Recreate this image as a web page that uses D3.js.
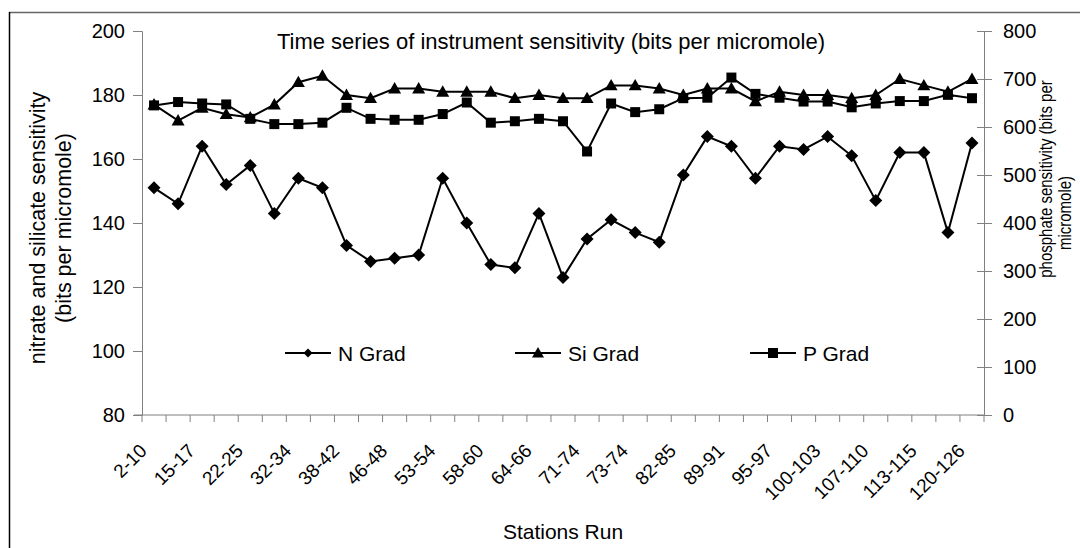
<!DOCTYPE html>
<html>
<head>
<meta charset="utf-8">
<script src="https://cdn.jsdelivr.net/npm/d3@7.9.0/dist/d3.min.js"></script>
<style>
  html, body { margin: 0; padding: 0; background: #fff; }
  svg { display: block; font-family: Arial, "Liberation Sans", sans-serif; }
</style>
</head>
<body>
<div id="chart"></div>
<script>
// Station labels shown on the x axis (every other category is labelled)
const stationLabels = ['2-10', '15-17', '22-25', '32-34', '38-42', '46-48', '53-54', '58-60', '64-66',
  '71-74', '73-74', '82-85', '89-91', '95-97', '100-103', '107-110', '113-115', '120-126'];

// Nitrate sensitivity (left axis)
const nGrad = [151, 146, 164, 152, 158, 143, 154, 151, 133, 128, 129, 130, 154, 140, 127, 126, 143, 123,
  135, 141, 137, 134, 155, 167, 164, 154, 164, 163, 167, 161, 147, 162, 162, 137, 165];

// Silicate sensitivity (left axis)
const siGrad = [177, 172, 176, 174, 173, 177, 184, 186, 180, 179, 182, 182, 181, 181, 181, 179, 180, 179,
  179, 183, 183, 182, 180, 182, 182, 178, 181, 180, 180, 179, 180, 185, 183, 181, 185];

// Phosphate sensitivity (right axis)
const pGrad = [645, 652, 649, 647, 617, 606, 606, 609, 640, 617, 615, 615, 627, 651, 609, 612, 617, 612,
  549, 649, 631, 637, 660, 661, 703, 669, 661, 653, 653, 641, 649, 654, 654, 667, 660];

const leftTicks = [80, 100, 120, 140, 160, 180, 200];
const rightTicks = [0, 100, 200, 300, 400, 500, 600, 700, 800];

const width = 1080;
const height = 548;
const plot = { left: 142, right: 984, top: 31, bottom: 415 };
const font = 'Arial, "Liberation Sans", sans-serif';

const svg = d3.select('#chart').append('svg')
  .attr('width', width)
  .attr('height', height);

// frame lines of the chart area
svg.append('line').attr('x1', 9).attr('x2', width).attr('y1', 12.5).attr('y2', 12.5)
  .attr('stroke', '#666').attr('stroke-width', 1.5);
svg.append('line').attr('x1', 9.5).attr('x2', 9.5).attr('y1', 12).attr('y2', height)
  .attr('stroke', '#000').attr('stroke-width', 1.5);

// Scales
const idx = d3.range(nGrad.length);
const x = d3.scaleBand().domain(idx).range([plot.left, plot.right]);
const cx = (i) => x(i) + x.bandwidth() / 2;
const yLeft = d3.scaleLinear().domain([80, 200]).range([plot.bottom, plot.top]);
const yRight = d3.scaleLinear().domain([0, 800]).range([plot.bottom, plot.top]);

const axisColor = '#808080';

// Left axis
const gLeft = svg.append('g')
  .attr('transform', `translate(${plot.left},0)`)
  .call(d3.axisLeft(yLeft).tickValues(leftTicks).tickSize(9).tickPadding(8));
gLeft.select('.domain').attr('stroke', axisColor);
gLeft.selectAll('.tick line').attr('stroke', axisColor);
gLeft.selectAll('.tick text').attr('font-size', 20).attr('fill', '#000').attr('font-family', font);

// Right axis (ticks cross the axis line)
const gRight = svg.append('g')
  .attr('transform', `translate(${plot.right},0)`)
  .call(d3.axisRight(yRight).tickValues(rightTicks).tickSize(8).tickPadding(11));
gRight.select('.domain').attr('stroke', axisColor);
gRight.selectAll('.tick line').attr('stroke', axisColor).attr('x1', -7);
gRight.selectAll('.tick text').attr('font-size', 20).attr('fill', '#000').attr('font-family', font);

// X axis
const gX = svg.append('g')
  .attr('transform', `translate(0,${plot.bottom})`);
gX.append('line')
  .attr('x1', plot.left - 8).attr('x2', plot.right)
  .attr('stroke', axisColor);
gX.selectAll('.xtick')
  .data(d3.range(nGrad.length + 1))
  .join('line')
  .attr('class', 'xtick')
  .attr('x1', (i) => plot.left + i * x.step())
  .attr('x2', (i) => plot.left + i * x.step())
  .attr('y1', 0).attr('y2', 7)
  .attr('stroke', axisColor);
gX.selectAll('.xlabel')
  .data(stationLabels)
  .join('text')
  .attr('class', 'xlabel')
  .attr('transform', (d, k) => `translate(${cx(k * 2) - 6},${37}) rotate(-45)`)
  .attr('text-anchor', 'end')
  .attr('font-size', 19)
  .text((d) => d);

// Axis titles
svg.append('text')
  .attr('x', (plot.left + plot.right) / 2).attr('y', 539)
  .attr('text-anchor', 'middle').attr('font-size', 21)
  .text('Stations Run');

const leftTitle = svg.append('g').attr('font-size', 21.5).attr('text-anchor', 'middle');
leftTitle.append('text')
  .attr('transform', 'translate(45,228) rotate(-90)')
  .text('nitrate and silicate sensitivity');
leftTitle.append('text')
  .attr('transform', 'translate(71,228) rotate(-90)')
  .text('(bits per micromole)');

// right title is narrow but thick in the source, so widen the glyphs sideways
const rightTitle = svg.append('g').attr('font-size', 15).attr('text-anchor', 'middle');
rightTitle.append('text')
  .attr('transform', 'translate(1052,179) scale(1.25,1) rotate(-90)')
  .text('phosphate sensitivity (bits per');
rightTitle.append('text')
  .attr('transform', 'translate(1071,213) scale(1.25,1) rotate(-90)')
  .text('micromole)');

// Chart title
svg.append('text')
  .attr('x', 551).attr('y', 49)
  .attr('text-anchor', 'middle').attr('font-size', 22)
  .text('Time series of instrument sensitivity (bits per micromole)');

// Marker shapes
const shapes = {
  diamond: (r) => `M0,${-r}L${r},0L0,${r}L${-r},0Z`,
  triangle: (r) => `M0,${-r}L${r},${r * 0.75}L${-r},${r * 0.75}Z`,
  square: (r) => `M${-r},${-r}H${r}V${r}H${-r}Z`,
};

const series = [
  { name: 'N Grad', values: nGrad, y: yLeft, shape: 'diamond', r: 6.5, lr: 4.5 },
  { name: 'Si Grad', values: siGrad, y: yLeft, shape: 'triangle', r: 6.5, lr: 6 },
  { name: 'P Grad', values: pGrad, y: yRight, shape: 'square', r: 5, lr: 5 },
];

series.forEach((s) => {
  const line = d3.line().x((d, i) => cx(i)).y((d) => s.y(d));
  svg.append('path')
    .datum(s.values)
    .attr('d', line)
    .attr('fill', 'none')
    .attr('stroke', '#000')
    .attr('stroke-width', 2);
  svg.append('g')
    .selectAll('path')
    .data(s.values)
    .join('path')
    .attr('transform', (d, i) => `translate(${cx(i)},${s.y(d)})`)
    .attr('d', shapes[s.shape](s.r))
    .attr('fill', '#000');
});

// Legend
const legendX = [285, 515, 750];
const legendY = 353;
const legend = svg.append('g');
series.forEach((s, k) => {
  const g = legend.append('g').attr('transform', `translate(${legendX[k]},${legendY})`);
  g.append('line').attr('x1', 0).attr('x2', 46).attr('stroke', '#000').attr('stroke-width', 2);
  g.append('path').attr('transform', 'translate(23,0)').attr('d', shapes[s.shape](s.lr)).attr('fill', '#000');
  g.append('text').attr('x', 53).attr('y', 7.5).attr('font-size', 21).text(s.name);
});
</script>
</body>
</html>
